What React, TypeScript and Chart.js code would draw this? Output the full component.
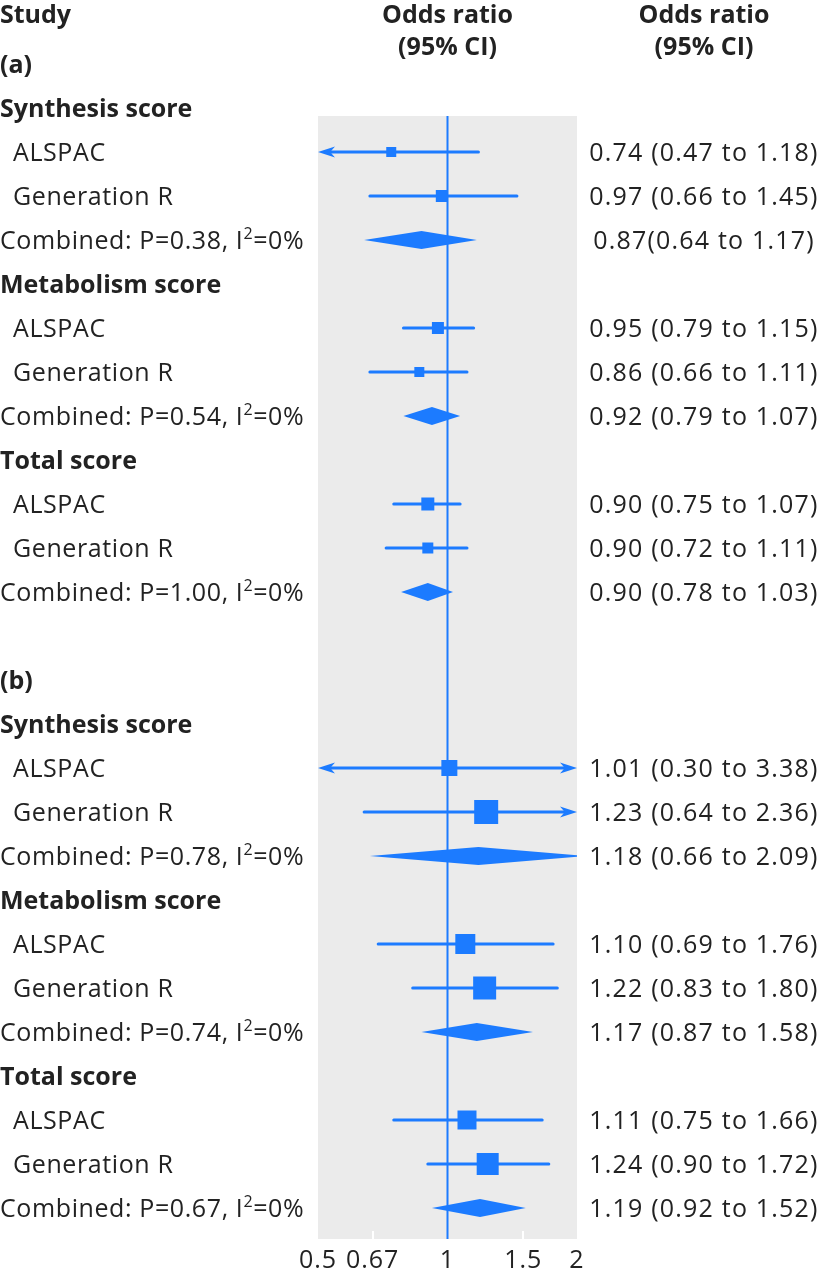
import React, { useEffect, useRef } from "react";
import { Chart, registerables } from "chart.js";

Chart.register(...registerables);

// ---------- data ----------
const rowLabels: string[] = [
  "(a)",
  "Synthesis score", "ALSPAC", "Generation R", "Combined: P=0.38, I²=0%",
  "Metabolism score", "ALSPAC", "Generation R", "Combined: P=0.54, I²=0%",
  "Total score", "ALSPAC", "Generation R", "Combined: P=1.00, I²=0%",
  "",
  "(b)",
  "Synthesis score", "ALSPAC", "Generation R", "Combined: P=0.78, I²=0%",
  "Metabolism score", "ALSPAC", "Generation R", "Combined: P=0.74, I²=0%",
  "Total score", "ALSPAC", "Generation R", "Combined: P=0.67, I²=0%",
];

const rowTypes: string[] = [
  "panel",
  "header", "study", "study", "combined",
  "header", "study", "study", "combined",
  "header", "study", "study", "combined",
  "blank",
  "panel",
  "header", "study", "study", "combined",
  "header", "study", "study", "combined",
  "header", "study", "study", "combined",
];

const oddsRatio: (number | null)[] = [
  null,
  null, 0.74, 0.97, 0.87,
  null, 0.95, 0.86, 0.92,
  null, 0.90, 0.90, 0.90,
  null,
  null,
  null, 1.01, 1.23, 1.18,
  null, 1.10, 1.22, 1.17,
  null, 1.11, 1.24, 1.19,
];

const lowerCI: (number | null)[] = [
  null,
  null, 0.47, 0.66, 0.64,
  null, 0.79, 0.66, 0.79,
  null, 0.75, 0.72, 0.78,
  null,
  null,
  null, 0.30, 0.64, 0.66,
  null, 0.69, 0.83, 0.87,
  null, 0.75, 0.90, 0.92,
];

const upperCI: (number | null)[] = [
  null,
  null, 1.18, 1.45, 1.17,
  null, 1.15, 1.11, 1.07,
  null, 1.07, 1.11, 1.03,
  null,
  null,
  null, 3.38, 2.36, 2.09,
  null, 1.76, 1.80, 1.58,
  null, 1.66, 1.72, 1.52,
];

// relative study weights (drive square size)
const studyWeight: (number | null)[] = [
  null,
  null, 10, 12, null,
  null, 12, 10, null,
  null, 13, 11, null,
  null,
  null,
  null, 16, 24, null,
  null, 20, 23, null,
  null, 19, 22, null,
];

const ciLabels: string[] = [
  "",
  "", "0.74 (0.47 to 1.18)", "0.97 (0.66 to 1.45)", "0.87(0.64 to 1.17)",
  "", "0.95 (0.79 to 1.15)", "0.86 (0.66 to 1.11)", "0.92 (0.79 to 1.07)",
  "", "0.90 (0.75 to 1.07)", "0.90 (0.72 to 1.11)", "0.90 (0.78 to 1.03)",
  "",
  "",
  "", "1.01 (0.30 to 3.38)", "1.23 (0.64 to 2.36)", "1.18 (0.66 to 2.09)",
  "", "1.10 (0.69 to 1.76)", "1.22 (0.83 to 1.80)", "1.17 (0.87 to 1.58)",
  "", "1.11 (0.75 to 1.66)", "1.24 (0.90 to 1.72)", "1.19 (0.92 to 1.52)",
];

const tickValues: number[] = [0.5, 0.67, 1, 1.5, 2];
const tickLabels: string[] = ["0.5", "0.67", "1", "1.5", "2"];
const headerStudy = "Study";
const headerEffect: string[] = ["Odds ratio", "(95% CI)"];
const referenceValue = 1;
const xMin = 0.5;
const xMax = 2;

// ---------- style ----------
const W = 824;
const H = 1276;
const BLUE = "#1c7bff";
const PANEL = "#ebebeb";
const TEXT = "#222222";
const FONT = '"Open Sans", "Noto Sans", sans-serif';
const FS = 25;
const ROW0_Y = 64;
const ROW_H = 44;
const AREA = { left: 318, right: 577, top: 116, bottom: 1239 };
const Y_MIN = (AREA.top - ROW0_Y) / ROW_H;
const Y_MAX = (AREA.bottom - ROW0_Y) / ROW_H;
const LS_LEFT = "0.6px";
const LS_RIGHT = "1.2px";
const LS_TICKS = "1px";

function drawLabel(
  ctx: CanvasRenderingContext2D,
  text: string,
  x: number,
  baseY: number,
  bold: boolean,
  align: "left" | "center",
  spacing: string
) {
  ctx.save();
  ctx.fillStyle = TEXT;
  ctx.textBaseline = "alphabetic";
  (ctx as any).letterSpacing = spacing;
  if (bold) {
    ctx.font = `bold ${FS}px ${FONT}`;
    ctx.textAlign = align;
    ctx.fillText(text, x, baseY);
    ctx.restore();
    return;
  }
  ctx.font = `${FS}px ${FONT}`;
  const parts = text.split("²");
  if (parts.length === 1) {
    ctx.textAlign = align;
    ctx.fillText(text, x, baseY);
  } else {
    const supFont = `${Math.round(FS * 0.62)}px ${FONT}`;
    ctx.font = `${FS}px ${FONT}`;
    const w1 = ctx.measureText(parts[0]).width;
    const w3 = ctx.measureText(parts[1]).width;
    ctx.font = supFont;
    const w2 = ctx.measureText("2").width;
    const total = w1 + w2 + w3;
    let cx = align === "center" ? x - total / 2 : x;
    ctx.textAlign = "left";
    ctx.font = `${FS}px ${FONT}`;
    ctx.fillText(parts[0], cx, baseY);
    cx += w1;
    ctx.font = supFont;
    ctx.fillText("2", cx, baseY - FS * 0.4);
    cx += w2;
    ctx.font = `${FS}px ${FONT}`;
    ctx.fillText(parts[1], cx, baseY);
  }
  ctx.restore();
}

function drawArrow(ctx: CanvasRenderingContext2D, tipX: number, y: number, dir: number) {
  const L = 17;
  const hw = 5.5;
  ctx.beginPath();
  ctx.moveTo(tipX, y);
  ctx.lineTo(tipX + dir * L, y - hw);
  ctx.lineTo(tipX + dir * L * 0.72, y);
  ctx.lineTo(tipX + dir * L, y + hw);
  ctx.closePath();
  ctx.fill();
}

const forestPlugin = {
  id: "forest",
  beforeDraw(chart: any) {
    const { ctx, chartArea: a } = chart;
    ctx.save();
    ctx.fillStyle = PANEL;
    ctx.fillRect(a.left, a.top, a.right - a.left, a.bottom - a.top);
    ctx.restore();
    (ctx as any).letterSpacing = LS_TICKS;
  },
  beforeDatasetsDraw(chart: any) {
    const { ctx, chartArea: a } = chart;
    (ctx as any).letterSpacing = "0px";
    const xs = chart.scales.x;
    const ys = chart.scales.y;
    ctx.save();
    ctx.beginPath();
    ctx.rect(a.left, a.top, a.right - a.left, a.bottom - a.top);
    ctx.clip();
    // reference line
    const rx = xs.getPixelForValue(referenceValue);
    ctx.strokeStyle = BLUE;
    ctx.lineWidth = 2;
    ctx.beginPath();
    ctx.moveTo(rx, a.top);
    ctx.lineTo(rx, a.bottom);
    ctx.stroke();

    ctx.fillStyle = BLUE;
    for (let i = 0; i < rowTypes.length; i++) {
      const lo = lowerCI[i];
      const hi = upperCI[i];
      const or = oddsRatio[i];
      if (lo == null || hi == null || or == null) continue;
      const y = ys.getPixelForValue(i);
      if (rowTypes[i] === "study") {
        const x1 = xs.getPixelForValue(Math.max(lo, xMin));
        const x2 = xs.getPixelForValue(Math.min(hi, xMax));
        ctx.lineWidth = 3;
        ctx.lineCap = "round";
        ctx.beginPath();
        ctx.moveTo(lo < xMin ? x1 + 8 : x1, y);
        ctx.lineTo(hi > xMax ? x2 - 8 : x2, y);
        ctx.stroke();
        if (lo < xMin) drawArrow(ctx, x1, y, 1);
        if (hi > xMax) drawArrow(ctx, x2, y, -1);
      } else if (rowTypes[i] === "combined") {
        const xl = xs.getPixelForValue(lo);
        const xc = xs.getPixelForValue(or);
        const xr = xs.getPixelForValue(hi);
        ctx.beginPath();
        ctx.moveTo(xl, y);
        ctx.lineTo(xc, y - 9);
        ctx.lineTo(xr, y);
        ctx.lineTo(xc, y + 9);
        ctx.closePath();
        ctx.fill();
      }
    }
    ctx.restore();
  },
  afterDraw(chart: any) {
    const { ctx } = chart;
    const xs = chart.scales.x;
    const ys = chart.scales.y;
    const off = FS * 0.357;
    // column headers
    drawLabel(ctx, headerStudy, 0, 14 + off, true, "left", "0px");
    const cx1 = xs.getPixelForValue(referenceValue);
    const cx2 = 704;
    headerEffect.forEach((t, k) => {
      drawLabel(ctx, t, cx1, 14 + k * 32 + off, true, "center", "0px");
      drawLabel(ctx, t, cx2, 14 + k * 32 + off, true, "center", "0px");
    });
    for (let i = 0; i < rowLabels.length; i++) {
      const y = ys.getPixelForValue(i) + off;
      const t = rowTypes[i];
      if (t === "panel" || t === "header") drawLabel(ctx, rowLabels[i], 0, y, true, "left", "0px");
      else if (t === "study") drawLabel(ctx, rowLabels[i], 13, y, false, "left", LS_LEFT);
      else if (t === "combined") drawLabel(ctx, rowLabels[i], 0, y, false, "left", LS_LEFT);
      if (ciLabels[i]) drawLabel(ctx, ciLabels[i], cx2, y, false, "center", LS_RIGHT);
    }
  },
};

export default function App() {
  const ref = useRef<HTMLCanvasElement>(null);
  useEffect(() => {
    const canvas = ref.current;
    if (!canvas) return;
    const points: { x: number; y: number }[] = [];
    const radii: number[] = [];
    for (let i = 0; i < rowTypes.length; i++) {
      if (rowTypes[i] === "study" && oddsRatio[i] != null) {
        points.push({ x: oddsRatio[i] as number, y: i });
        radii.push((studyWeight[i] as number) / Math.SQRT2);
      }
    }
    const chart = new Chart(canvas, {
      type: "scatter",
      data: {
        datasets: [
          {
            data: points,
            pointStyle: "rect",
            pointRadius: radii,
            pointHoverRadius: radii,
            backgroundColor: BLUE,
            borderWidth: 0,
          },
        ],
      },
      options: {
        responsive: false,
        animation: false,
        devicePixelRatio: 1,
        events: [],
        layout: { padding: { left: AREA.left, right: W - AREA.right, top: AREA.top, bottom: 0 } },
        plugins: { legend: { display: false }, tooltip: { enabled: false } },
        scales: {
          x: {
            type: "logarithmic",
            min: xMin,
            max: xMax,
            afterBuildTicks: (s: any) => {
              s.ticks = tickValues.map((v) => ({ value: v }));
            },
            afterFit: (s: any) => {
              s.height = H - AREA.bottom;
            },
            border: { display: false },
            grid: {
              drawOnChartArea: false,
              drawTicks: true,
              tickLength: -8,
              lineWidth: 2,
              color: (c: any) => {
                const v = c.tick ? c.tick.value : 0;
                return v === 0.67 || v === 1.5 ? "#ffffff" : "rgba(0,0,0,0)";
              },
            },
            ticks: {
              autoSkip: false,
              maxRotation: 0,
              padding: 15,
              color: TEXT,
              font: { family: FONT, size: FS },
              callback: (_v: any, idx: number) => tickLabels[idx],
            },
          },
          y: {
            type: "linear",
            reverse: true,
            min: Y_MIN,
            max: Y_MAX,
            display: false,
          },
        },
      },
      plugins: [forestPlugin],
    } as any);
    return () => chart.destroy();
  }, []);
  return (
    <div style={{ position: "absolute", left: 0, top: 0, width: W, height: H }}>
      <canvas ref={ref} width={W} height={H} style={{ display: "block", width: W, height: H }} />
    </div>
  );
}
